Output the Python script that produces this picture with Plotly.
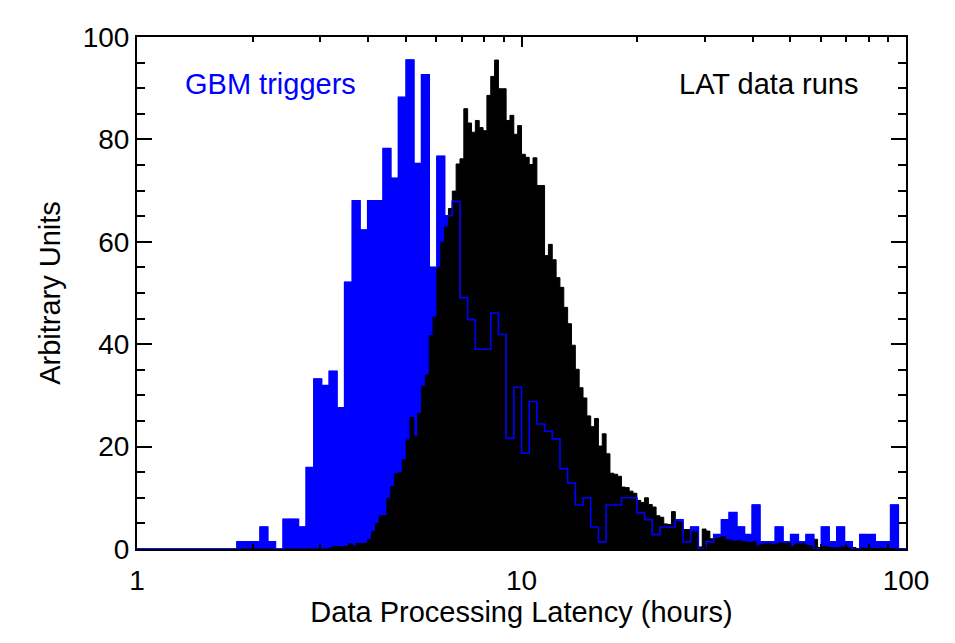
import numpy as np
import plotly.graph_objects as go

# GBM triggers: 100 log bins of width 0.02 decade starting at 1 hour
gbm_log_start = 0.0
gbm_log_width = 0.02
gbm_values = [
    0, 0, 0, 0, 0, 0, 0, 0, 0, 0, 0, 0, 0,
    1.4, 1.4, 1.4, 4.3, 1.4, 0, 5.8, 5.8, 4.3, 15.9,
    33.2, 31.9, 34.7, 27.6, 52.1, 68.0, 62.3, 68.0, 68.0, 78.2,
    72.4, 88.2, 95.5, 75.3, 92.6, 55.0, 76.7, 65.1, 67.9, 49.1,
    44.8, 39.0, 39.0, 46.1, 41.9, 21.6, 31.6, 18.7, 28.8, 24.4,
    23.0, 21.5, 15.7, 12.9, 8.6, 10.0, 4.3, 1.4, 8.6, 8.6,
    10.0, 10.0, 7.1, 5.7, 2.8, 4.3, 4.3, 5.7, 1.4, 4.3,
    0, 1.4, 2.8, 5.7, 7.1, 4.3, 2.8, 8.6, 1.4, 1.4,
    4.3, 1.4, 2.8, 1.4, 2.8, 0, 4.3, 1.4, 4.3, 1.4,
    0, 2.8, 2.8, 1.4, 1.4, 8.6, 0,
]

# LAT data runs: 200 log bins of width 0.01 decade starting at 1 hour
lat_log_start = 0.0
lat_log_width = 0.01
lat_values = [0] * 50 + [
    0.2, 0.5, 0.5, 0.5, 0.5, 1.0, 0.6, 1.1, 1.1, 1.1,
    1.9, 3.4, 5.0, 6.5, 6.5, 9.9, 12.2, 14.7, 14.9, 17.4,
    21.3, 25.7, 22.0, 26.5, 31.8, 34.0, 41.7, 45.3, 55.0, 59.9,
    62.9, 66.5, 69.9, 75.2, 76.2, 86.0, 83.2, 81.4, 83.7, 82.3,
    81.7, 88.6, 92.3, 95.5, 89.9, 89.9, 83.7, 84.7, 81.0, 82.7,
    77.1, 76.5, 75.1, 76.4, 71.0, 71.0, 57.3, 59.5, 56.5, 53.0,
    51.1, 47.2, 44.0, 39.8, 35.1, 31.5, 29.5, 26.0, 23.9, 25.5,
    20.1, 22.5, 18.6, 14.8, 14.6, 14.2, 12.1, 12.0, 11.3, 10.9,
    9.5, 9.1, 10.0, 8.7, 8.2, 6.5, 6.2, 4.9, 4.8, 7.3,
    5.3, 5.2, 3.8, 3.8, 3.4, 3.3, 0.4, 3.9, 3.5, 2.0,
    2.0, 2.2, 2.4, 1.8, 1.7, 1.5, 1.6, 1.4, 1.4, 1.3,
    1.4, 0.6, 0.9, 1.0, 1.1, 0.8, 1.0, 1.2, 1.2, 1.3,
    0.5, 1.0, 1.0, 1.0, 0.7, 0.5, 1.9, 0.3, 0.5, 0.4,
    0.3, 0.2, 0.3, 0.4, 0.3, 0.2, 0.3, 0.1, 0.2, 0.1,
    0.2, 0.1, 0.1, 0.2, 0.1, 0.1, 0.1, 0.0, 0.1, 0.0,
]

x_tick_vals = [1, 10, 100]
x_tick_text = ["1", "10", "100"]
x_minor_vals = [2, 3, 4, 5, 6, 7, 8, 9, 20, 30, 40, 50, 60, 70, 80, 90]

FONT = "Liberation Sans, Arial, Helvetica, sans-serif"


def step_xy(log_start, log_width, values):
    edges = 10 ** (log_start + log_width * np.arange(len(values) + 1))
    y = list(values) + [values[-1]]
    return edges, y


gx, gy = step_xy(gbm_log_start, gbm_log_width, gbm_values)
lx, ly = step_xy(lat_log_start, lat_log_width, lat_values)

fig = go.Figure()
fig.add_trace(go.Scatter(x=gx, y=gy, mode="lines", line=dict(shape="hv", color="#0000ff", width=1),
                         fill="tozeroy", fillcolor="#0000ff", hoverinfo="skip", showlegend=False))
fig.add_trace(go.Scatter(x=lx, y=ly, mode="lines", line=dict(shape="hv", color="#000000", width=1),
                         fill="tozeroy", fillcolor="#000000", hoverinfo="skip", showlegend=False))
fig.add_trace(go.Scatter(x=gx, y=gy, mode="lines", line=dict(shape="hv", color="#0000ff", width=1.6),
                         hoverinfo="skip", showlegend=False))

# the page body adds an 8px offset, so the figure is sized to fit inside the window
fig.update_layout(
    width=947, height=635,
    margin=dict(l=129, r=49, t=29, b=94),
    paper_bgcolor="white", plot_bgcolor="white",
    font=dict(family=FONT, color="black", size=28),
    xaxis=dict(
        type="log", range=[0, 2],
        tickmode="array", tickvals=x_tick_vals, ticktext=x_tick_text,
        ticks="inside", ticklen=10, tickwidth=1.5, tickcolor="black",
        minor=dict(tickmode="array", tickvals=x_minor_vals, ticks="inside", ticklen=5,
                   tickwidth=1.5, tickcolor="black", showgrid=False),
        showline=True, linewidth=2, linecolor="black", mirror="allticks",
        showgrid=False, zeroline=False,
        tickfont=dict(size=28), ticklabelstandoff=5,
        title=dict(text="Data Processing Latency (hours)", font=dict(size=29), standoff=0),
    ),
    yaxis=dict(
        range=[0, 100], tickmode="linear", tick0=0, dtick=20,
        ticks="inside", ticklen=15, tickwidth=1.5, tickcolor="black",
        minor=dict(dtick=5, ticks="inside", ticklen=8, tickwidth=1.5, tickcolor="black", showgrid=False),
        showline=True, linewidth=2, linecolor="black", mirror="allticks",
        showgrid=False, zeroline=False,
        tickfont=dict(size=28),
        title=dict(text="Arbitrary Units", font=dict(size=29), standoff=14),
    ),
    annotations=[
        dict(text="GBM triggers", x=(183 - 137) / 769, y=0.909, xref="paper", yref="paper",
             xanchor="left", yanchor="middle", showarrow=False,
             font=dict(size=29, color="#0000ff", family=FONT)),
        dict(text="LAT data runs", x=(860 - 137) / 769, y=0.909, xref="paper", yref="paper",
             xanchor="right", yanchor="middle", showarrow=False,
             font=dict(size=29, color="black", family=FONT)),
    ],
)

fig.write_html("out.html")
